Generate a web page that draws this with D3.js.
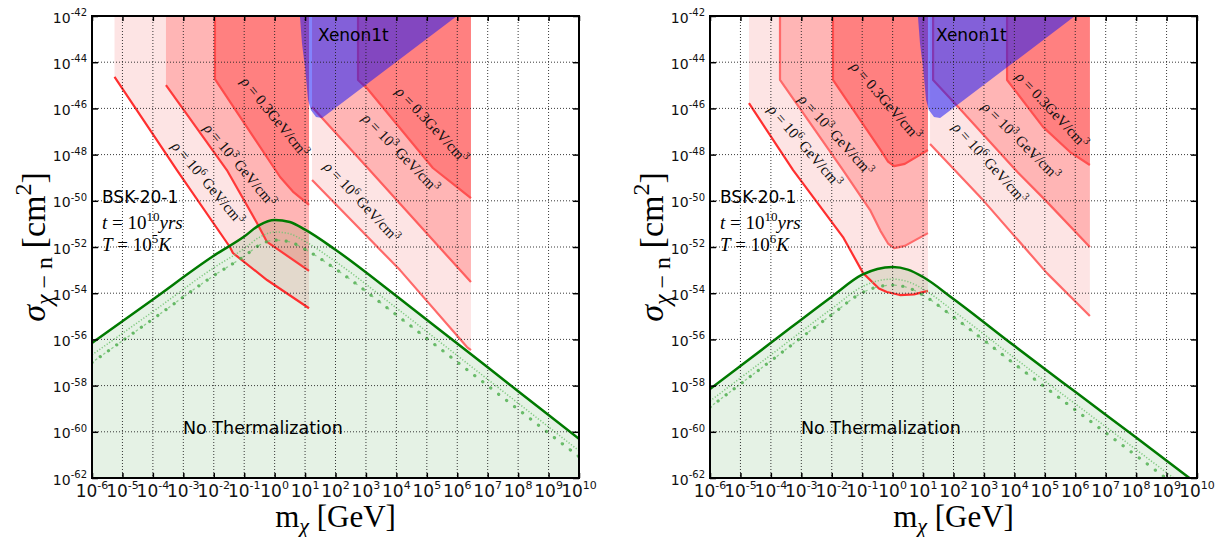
<!DOCTYPE html>
<html>
<head>
<meta charset="utf-8">
<title>Dark matter capture and thermalization, BSK-20-1</title>
<script src="https://cdn.jsdelivr.net/npm/d3@7/dist/d3.min.js"></script>
<style>
  html, body { margin: 0; padding: 0; background: #fff; }
  svg { display: block; }
  .sans { font-family: "DejaVu Sans", sans-serif; }
  .serif { font-family: "Liberation Serif", "DejaVu Serif", serif; }
</style>
</head>
<body>
<svg id="chart" width="1224" height="537"></svg>
<script>
// ---------- tick exponents ----------
const massExponents = d3.range(-6, 11);          // 10^-6 ... 10^10 GeV
const sigmaExponents = d3.range(-62, -41, 2);    // 10^-62 ... 10^-42 cm^2

// ---------- curves: [log10(m / GeV), log10(sigma / cm^2)] ----------
// Xenon1t excluded region (same in both panels)
const xenon1t = [[0.83,-42],[0.9,-43.2],[0.997,-44.21],[1.10,-45.64],[1.19,-46.07],[1.36,-46.37],[1.56,-46.42],[5.99,-42]];

// T = 10^5 K panel: capture bounds, low-mass and high-mass branches
const t5LowRho6  = [[-5.26,-44.64],[-3.21,-48.67],[-1.47,-52.0],[-1.37,-52.26],[-0.25,-53.43],[1.13,-54.65]];
const t5LowRho3  = [[-3.57,-44.99],[-1.57,-48.67],[-0.58,-50.96],[-0.25,-51.78],[1.13,-53.03]];
const t5LowRho03 = [[-1.96,-42],[-1.96,-44.73],[0.18,-48.97],[0.6,-49.6],[1.13,-50.18]];
const t5HighRho6  = [[1.23,-49.1],[4.12,-53.0],[6.32,-56.33],[6.45,-56.46]];
const t5HighRho3  = [[1.23,-45.94],[1.92,-46.94],[3.03,-48.54],[6.45,-53.52]];
const t5HighRho03 = [[2.74,-42],[2.74,-44.77],[3.03,-45.12],[5.2,-48.58],[5.83,-49.23],[6.45,-49.88]];
// thermalization bound and its two companions
const t5Thermal = [[-6,-56.15],[-4,-54.27],[-2,-52.38],[-1,-51.55],[-0.5,-51.05],[0,-50.83],[0.5,-50.92],[1,-51.25],[2,-52.12],[4,-54.12],[6,-56.18],[8,-58.24],[10,-60.3]];
const t5ThermalA = [[-6,-56.67],[-4,-54.8],[-2,-52.9],[-1,-52.07],[-0.5,-51.58],[0,-51.35],[0.5,-51.43],[1,-51.76],[2,-52.63],[4,-54.64],[6,-56.7],[8,-58.76],[10,-60.82]];
const t5ThermalB = [[-6,-57.0],[-4,-55.12],[-2,-53.24],[-1,-52.4],[-0.5,-51.92],[0,-51.7],[0.5,-51.78],[1,-52.1],[2,-52.95],[4,-54.94],[6,-56.98],[8,-59.03],[10,-61.08]];

// T = 10^6 K panel
const t6LowRho6  = [[-4.72,-45.77],[-3.27,-48.67],[-1.63,-51.57],[-0.97,-53.13],[-0.45,-53.8],[-0.19,-53.95],[0.24,-54.08],[0.7,-54.05],[1.16,-53.9]];
const t6LowRho3  = [[-3.70,-42],[-3.70,-44.77],[-1.63,-48.67],[-0.74,-50.4],[-0.4,-51.3],[-0.15,-51.85],[0.05,-52.05],[0.4,-51.95],[1.16,-51.4]];
const t6LowRho03 = [[-1.96,-42],[-1.96,-44.77],[-0.42,-47.75],[-0.15,-48.3],[0.05,-48.5],[0.4,-48.4],[1.16,-47.8]];
const t6HighRho6  = [[1.23,-47.54],[2.97,-49.97],[5.07,-53.13],[6.48,-54.99]];
const t6HighRho3  = [[1.33,-42],[1.33,-44.77],[2.2,-46.0],[4.1,-48.75],[5.0,-49.95],[6.48,-52.0]];
const t6HighRho03 = [[3.76,-42],[3.76,-44.77],[4.94,-46.8],[5.83,-47.89],[6.48,-48.45]];
const t6Thermal = [[-6,-58.15],[-4,-56.15],[-2,-54.15],[-1,-53.2],[-0.5,-52.95],[0,-52.87],[0.5,-52.98],[1,-53.3],[2,-54.25],[4,-56.28],[6,-58.27],[8,-60.25],[10,-62.25]];
const t6ThermalA = [[-6,-58.67],[-4,-56.67],[-2,-54.67],[-1,-53.72],[-0.5,-53.47],[0,-53.39],[0.5,-53.5],[1,-53.82],[2,-54.77],[4,-56.8],[6,-58.79],[8,-60.77],[10,-62.77]];
const t6ThermalB = [[-6,-58.93],[-4,-56.93],[-2,-54.93],[-1,-53.98],[-0.5,-53.73],[0,-53.65],[0.5,-53.76],[1,-54.08],[2,-55.03],[4,-57.06],[6,-59.05],[8,-61.03],[10,-63.03]];

// density labels: which density, anchor [log m, log sigma], rotation
const t5Labels = [["0.3",0.01,-46.37,51],["3",-1.14,-48.45,50],["6",-2.19,-49.23,50],
                  ["0.3",5.17,-46.72,47],["3",4.15,-47.93,46],["6",2.87,-50.05,47]];
const t6Labels = [["0.3",-0.22,-45.68,49],["3",-1.86,-47.15,48],["6",-2.88,-47.63,49],
                  ["0.3",5.24,-46.07,47],["3",4.22,-47.41,45],["6",3.2,-48.36,48]];

// ---------- styling ----------
const FILL = { "6": "#fde4e4", "3": "#ffb5b5", "0.3": "#ff8080" };
const LINE_LOW  = { "6": "#ff2f2f", "3": "#ff3a3a", "0.3": "#ff4c4c" };
const LINE_HIGH = { "6": "#ff6a6a", "3": "#ff5f5f", "0.3": "#ff5050" };

const panels = [
  { left: 92, right: 579, top: 16, bottom: 478, temp: "5",
    low:  { "6": t5LowRho6,  "3": t5LowRho3,  "0.3": t5LowRho03 },
    high: { "6": t5HighRho6, "3": t5HighRho3, "0.3": t5HighRho03 },
    lineLow: LINE_LOW, lineHigh: LINE_HIGH,
    thermal: t5Thermal, thermalA: t5ThermalA, thermalB: t5ThermalB, labels: t5Labels },
  { left: 710, right: 1197, top: 16, bottom: 478, temp: "6",
    low:  { "6": t6LowRho6,  "3": t6LowRho3,  "0.3": t6LowRho03 },
    high: { "6": t6HighRho6, "3": t6HighRho3, "0.3": t6HighRho03 },
    lineLow: { "6": "#ff2f2f", "3": "#ff6a6a", "0.3": "#ff4c4c" }, lineHigh: LINE_HIGH,
    thermal: t6Thermal, thermalA: t6ThermalA, thermalB: t6ThermalB, labels: t6Labels }
];

const svg = d3.select("#chart");
const defs = svg.append("defs");

// "10" with a raised exponent
function powerText(sel, exp, base, sup, rise) {
  sel.append("tspan").text("10").attr("font-size", base);
  sel.append("tspan").text(exp).attr("font-size", sup).attr("dy", -rise);
}

function drawPanel(p, idx) {
  const x = d3.scaleLog().domain([1e-6, 1e10]).range([p.left, p.right]);
  const y = d3.scaleLog().domain([1e-62, 1e-42]).range([p.bottom, p.top]);
  const px = d => x(Math.pow(10, d[0]));
  const py = d => y(Math.pow(10, d[1]));
  const line = d3.line().x(px).y(py);
  const smooth = d3.line().x(px).y(py).curve(d3.curveMonotoneX);
  const area = d3.area().x(px).y0(p.bottom).y1(py).curve(d3.curveMonotoneX);

  const clipId = "plotclip" + idx;
  defs.append("clipPath").attr("id", clipId).append("rect")
    .attr("x", p.left).attr("y", p.top)
    .attr("width", p.right - p.left).attr("height", p.bottom - p.top);

  const g = svg.append("g");
  const plot = g.append("g").attr("clip-path", `url(#${clipId})`);

  // capture regions: filled from each bound up to the top of the axes
  const region = pts => [[pts[0][0], -42], ...pts, [pts[pts.length - 1][0], -42]];
  ["low", "high"].forEach(branch => {
    ["6", "3", "0.3"].forEach(rho => {
      plot.append("path").attr("d", line(region(p[branch][rho])) + "Z")
        .attr("fill", FILL[rho]);
    });
  });

  // no-thermalization region
  plot.append("path").attr("d", area(p.thermal))
    .attr("fill", "rgba(0,128,0,0.10)");

  // capture bounds
  ["low", "high"].forEach(branch => {
    const colors = branch === "low" ? p.lineLow : p.lineHigh;
    ["6", "3", "0.3"].forEach(rho => {
      plot.append("path").attr("d", line(p[branch][rho]))
        .attr("fill", "none").attr("stroke", colors[rho])
        .attr("stroke-width", 2.2).attr("stroke-linejoin", "round");
    });
  });

  // Xenon1t exclusion
  plot.append("path").attr("d", line(xenon1t) + "Z")
    .attr("fill", "rgba(20,20,250,0.53)");

  // grid
  const grid = g.append("g").attr("stroke", "#222").attr("stroke-width", 0.9)
    .attr("stroke-dasharray", "1,2").attr("fill", "none");
  massExponents.slice(1, -1).forEach(e => {
    grid.append("line").attr("x1", x(Math.pow(10, e))).attr("x2", x(Math.pow(10, e)))
      .attr("y1", p.top).attr("y2", p.bottom);
  });
  sigmaExponents.slice(1, -1).forEach(e => {
    grid.append("line").attr("y1", y(Math.pow(10, e))).attr("y2", y(Math.pow(10, e)))
      .attr("x1", p.left).attr("x2", p.right);
  });

  // thermalization curves
  plot.append("path").attr("d", smooth(p.thermalB)).attr("fill", "none")
    .attr("stroke", "#4fae4f").attr("stroke-opacity", 0.85).attr("stroke-width", 3.2)
    .attr("stroke-dasharray", "0.1,10").attr("stroke-linecap", "round");
  plot.append("path").attr("d", smooth(p.thermalB)).attr("fill", "none")
    .attr("stroke", "#6fc06f").attr("stroke-opacity", 0.75).attr("stroke-width", 1.3)
    .attr("stroke-dasharray", "2.5,7.5").attr("stroke-dashoffset", -3.8);
  plot.append("path").attr("d", smooth(p.thermalA)).attr("fill", "none")
    .attr("stroke", "#74c474").attr("stroke-opacity", 0.9).attr("stroke-width", 1.5)
    .attr("stroke-dasharray", "1.2,1.8");
  plot.append("path").attr("d", smooth(p.thermal)).attr("fill", "none")
    .attr("stroke", "#007a00").attr("stroke-width", 2.5);

  // density labels along the bounds
  p.labels.forEach(([rho, lm, ls, ang]) => {
    const t = g.append("text").attr("class", "serif")
      .attr("transform", `translate(${px([lm, ls])},${py([lm, ls])}) rotate(${ang})`)
      .attr("text-anchor", "middle").attr("dominant-baseline", "central")
      .attr("font-size", 15).attr("fill", "#111");
    t.append("tspan").text("ρ").attr("font-style", "italic");
    if (rho === "0.3") {
      t.append("tspan").text(" = 0.3GeV/cm");
    } else {
      t.append("tspan").text(" = 10");
      t.append("tspan").text(rho).attr("font-size", 10.5).attr("dy", -5);
      t.append("tspan").text(" GeV/cm").attr("dy", 5);
    }
    t.append("tspan").text("3").attr("font-size", 10.5).attr("dy", -5);
  });

  // annotations
  g.append("text").attr("class", "sans").attr("x", p.left + 226).attr("y", 41)
    .attr("font-size", 17).text("Xenon1t");
  g.append("text").attr("class", "sans").attr("x", p.left + 91).attr("y", 434)
    .attr("font-size", 17.5).text("No Thermalization");
  g.append("text").attr("class", "sans").attr("x", p.left + 10).attr("y", 203)
    .attr("font-size", 17).text("BSK-20-1");
  const tLine = g.append("text").attr("class", "serif").attr("x", p.left + 10).attr("y", 229)
    .attr("font-size", 19);
  tLine.append("tspan").text("t").attr("font-style", "italic");
  tLine.append("tspan").text(" = 10");
  tLine.append("tspan").text("10").attr("font-size", 13).attr("dy", -8);
  tLine.append("tspan").text("yrs").attr("font-style", "italic").attr("dy", 8);
  const TLine = g.append("text").attr("class", "serif").attr("x", p.left + 10).attr("y", 251)
    .attr("font-size", 19);
  TLine.append("tspan").text("T").attr("font-style", "italic");
  TLine.append("tspan").text(" = 10");
  TLine.append("tspan").text(p.temp).attr("font-size", 13).attr("dy", -8);
  TLine.append("tspan").text("K").attr("font-style", "italic").attr("dy", 8);

  // spines and inward ticks
  const tickX = massExponents.map(e => Math.pow(10, e));
  const tickY = sigmaExponents.map(e => Math.pow(10, e));
  const axes = g.append("g");
  const styleAxis = a => {
    a.selectAll(".domain").remove();
    a.selectAll(".tick line").attr("stroke", "#000").attr("stroke-width", 1.5);
    a.selectAll(".tick text").remove();
  };
  axes.append("g").attr("transform", `translate(0,${p.bottom})`)
    .call(d3.axisBottom(x).tickValues(tickX).tickSizeInner(-5).tickSizeOuter(0).tickFormat(""))
    .call(styleAxis);
  axes.append("g").attr("transform", `translate(0,${p.top})`)
    .call(d3.axisTop(x).tickValues(tickX).tickSizeInner(-5).tickSizeOuter(0).tickFormat(""))
    .call(styleAxis);
  axes.append("g").attr("transform", `translate(${p.left},0)`)
    .call(d3.axisLeft(y).tickValues(tickY).tickSizeInner(-6).tickSizeOuter(0).tickFormat(""))
    .call(styleAxis);
  axes.append("g").attr("transform", `translate(${p.right},0)`)
    .call(d3.axisRight(y).tickValues(tickY).tickSizeInner(-6).tickSizeOuter(0).tickFormat(""))
    .call(styleAxis);
  g.append("rect").attr("x", p.left).attr("y", p.top)
    .attr("width", p.right - p.left).attr("height", p.bottom - p.top)
    .attr("fill", "none").attr("stroke", "#000").attr("stroke-width", 2);

  // tick labels
  massExponents.forEach(e => {
    const t = g.append("text").attr("class", "sans").attr("text-anchor", "middle")
      .attr("x", x(Math.pow(10, e))).attr("y", 497).attr("fill", "#111");
    powerText(t, String(e), 17, 11, 8);
  });
  sigmaExponents.forEach(e => {
    const t = g.append("text").attr("class", "sans").attr("text-anchor", "end")
      .attr("x", p.left - 5).attr("y", y(Math.pow(10, e)) + 6.5).attr("fill", "#111");
    powerText(t, String(e), 14, 10, 6.5);
  });

  // axis titles
  const xt = g.append("text").attr("class", "serif").attr("text-anchor", "middle")
    .attr("x", (p.left + p.right) / 2).attr("y", 527).attr("font-size", 31);
  xt.append("tspan").text("m");
  xt.append("tspan").text("χ").attr("font-style", "italic").attr("font-size", 22).attr("dy", 6);
  xt.append("tspan").text(" [GeV]").attr("dy", -6);

  const yt = g.append("text").attr("class", "serif").attr("text-anchor", "middle")
    .attr("transform", `translate(${p.left - 47},${(p.top + p.bottom) / 2}) rotate(-90)`)
    .attr("font-size", 34);
  yt.append("tspan").text("σ").attr("font-style", "italic");
  yt.append("tspan").text("χ").attr("font-style", "italic").attr("font-size", 24).attr("dy", 7);
  yt.append("tspan").text(" − n").attr("font-size", 24);
  yt.append("tspan").text("  [cm").attr("dy", -7);
  yt.append("tspan").text("2").attr("font-size", 24).attr("dy", -14);
  yt.append("tspan").text("]").attr("dy", 14);
}

panels.forEach(drawPanel);
</script>
</body>
</html>
